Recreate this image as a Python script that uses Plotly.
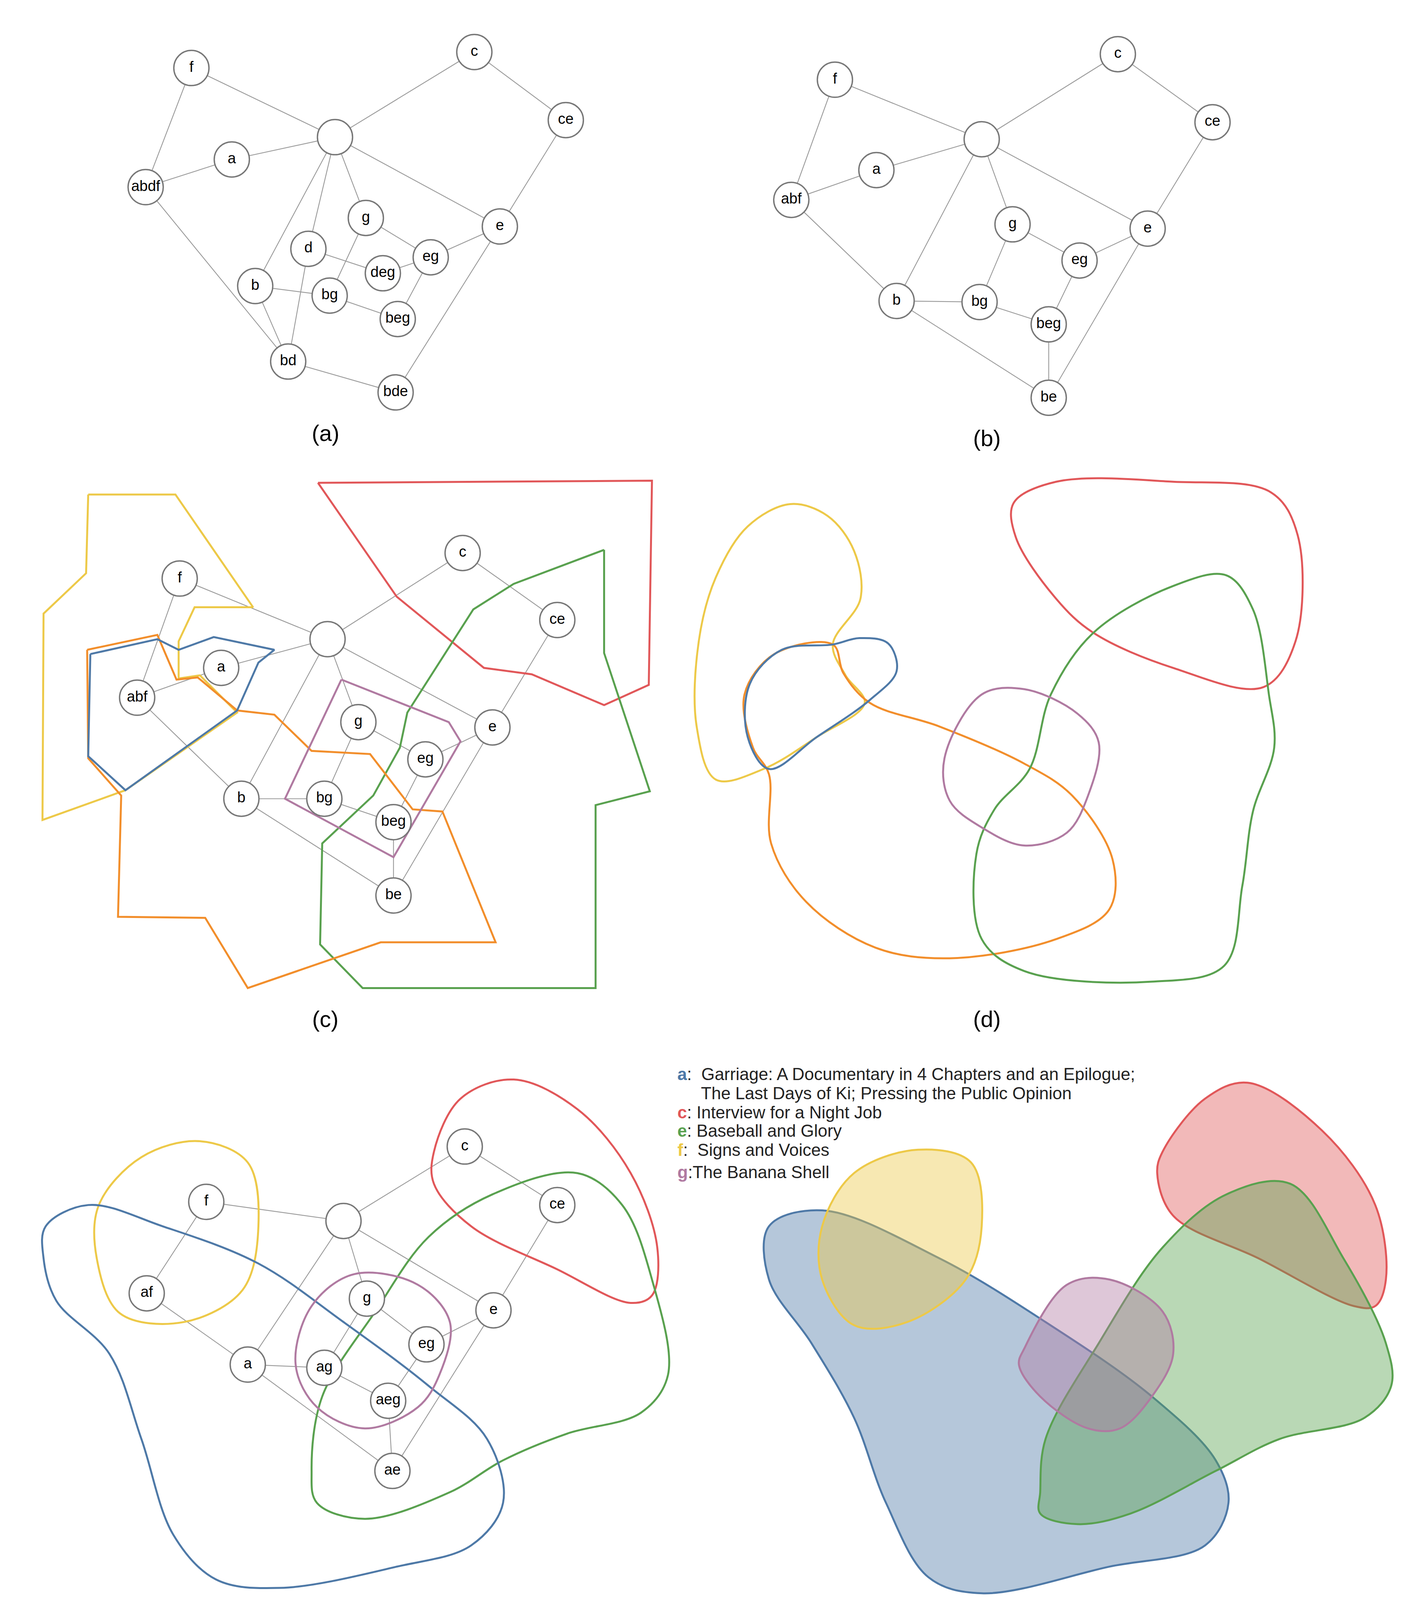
import plotly.graph_objects as go

# colours for the sets
BLUE, ORANGE, RED = "#4e79a7", "#f28e2b", "#e15759"
GREEN, YELLOW, PURPLE = "#59a14f", "#edc948", "#b07aa1"

# ---- panel (a) ----
nodes_a = {"": (312, 126), "f": (177, 61), "c": (443, 46), "ce": (529, 110), "a": (215, 147),
           "abdf": (134, 173), "g": (341, 202), "e": (467, 210), "d": (287, 231), "deg": (357, 254),
           "eg": (402, 239), "b": (237, 266), "bg": (307, 275), "beg": (371, 297), "bd": (268, 337),
           "bde": (369, 366)}
edges_a = [("f", "abdf"), ("f", ""), ("a", "abdf"), ("a", ""), ("", "c"), ("c", "ce"), ("ce", "e"),
           ("", "e"), ("", "g"), ("", "d"), ("", "b"), ("abdf", "bd"), ("g", "eg"), ("g", "bg"),
           ("d", "deg"), ("d", "bd"), ("deg", "eg"), ("eg", "e"), ("eg", "beg"), ("b", "bg"),
           ("b", "bd"), ("bg", "beg"), ("bd", "bde"), ("bde", "e")]

# ---- panel (b) ----
nodes_b = {"": (920, 128), "f": (782, 72), "c": (1048, 48), "ce": (1137, 112), "a": (821, 157),
           "abf": (741, 185), "g": (949, 208), "e": (1076, 212), "eg": (1012, 242), "b": (840, 280),
           "bg": (918, 281), "beg": (983, 302), "be": (983, 371)}
edges_b = [("f", "abf"), ("f", ""), ("a", "abf"), ("a", ""), ("", "c"), ("c", "ce"), ("ce", "e"),
           ("", "e"), ("", "g"), ("", "b"), ("abf", "b"), ("g", "eg"), ("g", "bg"), ("eg", "e"),
           ("eg", "beg"), ("b", "bg"), ("bg", "beg"), ("b", "be"), ("beg", "be"), ("be", "e")]

# ---- panel (c) ----
nodes_c = {"": (305, 598), "f": (166, 541), "c": (432, 517), "ce": (521, 580), "a": (205, 625),
           "abf": (126, 653), "g": (334, 676), "e": (460, 681), "eg": (397, 711), "b": (224, 748),
           "bg": (302, 748), "beg": (367, 770), "be": (367, 839)}
edges_c = edges_b
poly_c = {
    YELLOW: [(80, 462), (162, 462), (235, 568), (180, 568), (165, 600), (165, 635), (185, 632),
             (220, 667), (115, 740), (37, 768), (38, 574), (78, 536), (80, 462)],
    RED: [(296, 451), (370, 558), (452, 625), (497, 631), (565, 660), (607, 641), (610, 449), (296, 451)],
    GREEN: [(565, 514), (480, 546), (442, 570), (380, 667), (373, 700), (348, 745), (300, 790),
            (298, 885), (338, 926), (557, 926), (557, 754), (608, 741), (565, 611), (565, 514)],
    ORANGE: [(79, 608), (145, 594), (163, 636), (183, 634), (220, 665), (255, 669), (290, 703),
             (345, 706), (385, 758), (413, 760), (463, 883), (355, 883), (230, 926), (190, 860),
             (108, 859), (111, 745), (80, 710), (79, 608)],
    BLUE: [(82, 612), (145, 598), (165, 608), (198, 596), (255, 608), (240, 620), (220, 665),
           (115, 740), (80, 708), (82, 612)],
    PURPLE: [(318, 636), (419, 676), (430, 694), (367, 803), (265, 748), (318, 636)],
}

# ---- panel (d) ----
curve_d = {
    YELLOW: [(780, 603), (806, 560), (800, 515), (775, 482), (740, 471), (700, 492), (670, 540),
             (654, 600), (652, 680), (670, 730), (715, 720), (765, 690), (810, 658), (792, 632), (780, 603)],
    ORANGE: [(780, 603), (725, 612), (697, 650), (705, 700), (720, 725), (722, 790), (755, 845),
             (820, 888), (890, 898), (990, 880), (1040, 852), (1043, 805), (1005, 745), (960, 715),
             (880, 680), (815, 658), (790, 630), (780, 603)],
    BLUE: [(720, 720), (700, 690), (702, 640), (732, 608), (780, 603), (805, 597), (832, 602),
           (840, 628), (815, 655), (765, 690), (720, 720)],
    RED: [(1025, 592), (1100, 625), (1185, 643), (1215, 600), (1217, 500), (1192, 460), (1100, 450),
          (990, 450), (950, 470), (952, 502), (990, 560), (1025, 592)],
    GREEN: [(1025, 592), (1100, 548), (1150, 538), (1175, 570), (1190, 650), (1195, 700), (1175, 760),
            (1165, 830), (1148, 905), (1080, 920), (960, 910), (920, 880), (915, 800), (932, 758),
            (965, 720), (985, 650), (1025, 592)],
    PURPLE: [(920, 650), (960, 645), (1010, 668), (1030, 695), (1020, 745), (1000, 780), (960, 792),
             (920, 775), (890, 750), (885, 710), (920, 650)],
}

# ---- panel (e) ----
nodes_e = {"": (320, 1145), "f": (191, 1127), "c": (434, 1075), "ce": (521, 1130), "af": (135, 1213),
           "g": (342, 1218), "e": (461, 1229), "eg": (398, 1261), "a": (230, 1280), "ag": (302, 1283),
           "aeg": (362, 1314), "ae": (366, 1380)}
edges_e = [("f", "af"), ("f", ""), ("", "c"), ("c", "ce"), ("ce", "e"), ("", "e"), ("", "g"), ("", "a"),
           ("af", "a"), ("g", "eg"), ("g", "ag"), ("eg", "e"), ("eg", "aeg"), ("a", "ag"),
           ("ag", "aeg"), ("a", "ae"), ("aeg", "ae"), ("ae", "e")]
curve_e = {
    YELLOW: [(90, 1130), (130, 1085), (185, 1070), (230, 1090), (240, 1150), (225, 1210), (170, 1240),
             (110, 1232), (88, 1180), (90, 1130)],
    RED: [(405, 1080), (430, 1030), (480, 1012), (540, 1040), (590, 1100), (615, 1170), (610, 1215),
          (590, 1222), (520, 1190), (440, 1150), (405, 1110), (405, 1080)],
    GREEN: [(290, 1380), (300, 1310), (350, 1230), (400, 1160), (460, 1120), (540, 1100), (582, 1130),
            (610, 1200), (625, 1290), (600, 1325), (530, 1345), (470, 1370), (420, 1400), (340, 1425),
            (295, 1410), (290, 1380)],
    BLUE: [(40, 1150), (80, 1130), (150, 1150), (240, 1185), (320, 1240), (400, 1300), (455, 1350),
           (470, 1410), (440, 1450), (370, 1470), (260, 1490), (200, 1482), (160, 1440), (130, 1350),
           (100, 1270), (50, 1220), (38, 1180), (40, 1150)],
    PURPLE: [(290, 1225), (330, 1195), (390, 1205), (420, 1240), (410, 1290), (390, 1320), (340, 1340),
             (295, 1320), (275, 1280), (290, 1225)],
}

# ---- panel (f) ----
curve_f = {
    BLUE: [(720, 1150), (770, 1135), (880, 1180), (980, 1240), (1080, 1310), (1140, 1370), (1152, 1410),
           (1130, 1450), (1040, 1470), (920, 1495), (870, 1480), (830, 1410), (800, 1330), (760, 1260),
           (720, 1200), (720, 1150)],
    YELLOW: [(770, 1150), (800, 1100), (860, 1078), (910, 1090), (920, 1150), (905, 1200), (850, 1240),
             (800, 1243), (770, 1200), (770, 1150)],
    RED: [(1090, 1080), (1130, 1030), (1170, 1015), (1240, 1060), (1290, 1130), (1300, 1200),
          (1290, 1225), (1270, 1225), (1180, 1180), (1100, 1140), (1085, 1100), (1090, 1080)],
    GREEN: [(975, 1400), (980, 1350), (1030, 1260), (1090, 1170), (1150, 1120), (1210, 1110),
            (1260, 1180), (1300, 1260), (1305, 1300), (1280, 1330), (1200, 1350), (1140, 1380),
            (1060, 1420), (1010, 1430), (975, 1420), (975, 1400)],
    PURPLE: [(960, 1265), (1000, 1205), (1040, 1200), (1090, 1230), (1100, 1270), (1080, 1310),
             (1050, 1340), (1020, 1340), (975, 1310), (955, 1280), (960, 1265)],
}

legend_rows = [("a", BLUE, ":  Garriage: A Documentary in 4 Chapters and an Epilogue;"),
               ("", BLUE, "     The Last Days of Ki; Pressing the Public Opinion"),
               ("c", RED, ": Interview for a Night Job"),
               ("e", GREEN, ": Baseball and Glory"),
               ("f", YELLOW, ":  Signs and Voices"),
               ("g", PURPLE, ":The Banana Shell")]
legend_y = [1007, 1025, 1043, 1060, 1078, 1099]

panel_labels = ["(a)", "(b)", "(c)", "(d)", "(e)", "(f)"]
label_pos = [(303, 404), (925, 409), (303, 955), (925, 955), (303, 1516), (928, 1519)]

W, H = 1335, 1559
FONT = "Liberation Sans, Arial, sans-serif"
fig = go.Figure()


def draw_graph(nodes, edges):
    xs, ys = [], []
    for u, v in edges:
        xs += [nodes[u][0], nodes[v][0], None]
        ys += [nodes[u][1], nodes[v][1], None]
    fig.add_trace(go.Scatter(x=xs, y=ys, mode="lines", line=dict(color="#9a9a9a", width=2.2),
                             hoverinfo="none"))


def draw_nodes(nodes):
    fig.add_trace(go.Scatter(x=[p[0] for p in nodes.values()], y=[p[1] for p in nodes.values()],
                             mode="markers+text", text=list(nodes.keys()),
                             marker=dict(size=90, color="white", line=dict(color="#777777", width=3.5)),
                             textposition="middle center",
                             textfont=dict(size=38, color="black", family=FONT), hoverinfo="none"))


def draw_curves(curves, spline):
    for col, pts in curves.items():
        fig.add_trace(go.Scatter(x=[p[0] for p in pts], y=[p[1] for p in pts], mode="lines",
                                 line=dict(color=col, width=5, shape="spline" if spline else "linear"),
                                 hoverinfo="none"))


def rgba(h, a):
    return "rgba(%d,%d,%d,%s)" % (int(h[1:3], 16), int(h[3:5], 16), int(h[5:7], 16), a)


for nd, ed in ((nodes_a, edges_a), (nodes_b, edges_b), (nodes_c, edges_c), (nodes_e, edges_e)):
    draw_graph(nd, ed)
draw_curves(poly_c, False)
draw_curves(curve_d, True)
draw_curves(curve_e, True)

for col, pts in curve_f.items():
    fig.add_trace(go.Scatter(x=[p[0] for p in pts], y=[p[1] for p in pts], mode="lines",
                             line=dict(color=col, width=5, shape="spline"), fill="toself",
                             fillcolor=rgba(col, 0.42), hoverinfo="none"))

for nd in (nodes_a, nodes_b, nodes_c, nodes_e):
    draw_nodes(nd)

annotations = []
for t, (x, y) in zip(panel_labels, label_pos):
    annotations.append(dict(x=x, y=y, text=t, showarrow=False, font=dict(size=58, family=FONT, color="black")))
for (letter, col, txt), y in zip(legend_rows, legend_y):
    html = (f"<b><span style='color:{col}'>{letter}</span></b>" if letter else "") + txt
    annotations.append(dict(x=633, y=y, text=html, showarrow=False, xanchor="left",
                            font=dict(size=44, family=FONT, color="#222222")))

fig.update_layout(width=3635, height=4245, margin=dict(l=0, r=0, t=0, b=0), showlegend=False,
                  plot_bgcolor="white", paper_bgcolor="white", annotations=annotations)
fig.update_xaxes(range=[0, W], visible=False, showgrid=False, zeroline=False)
fig.update_yaxes(range=[H, 0], visible=False, showgrid=False, zeroline=False)
fig.write_html("out.html")
